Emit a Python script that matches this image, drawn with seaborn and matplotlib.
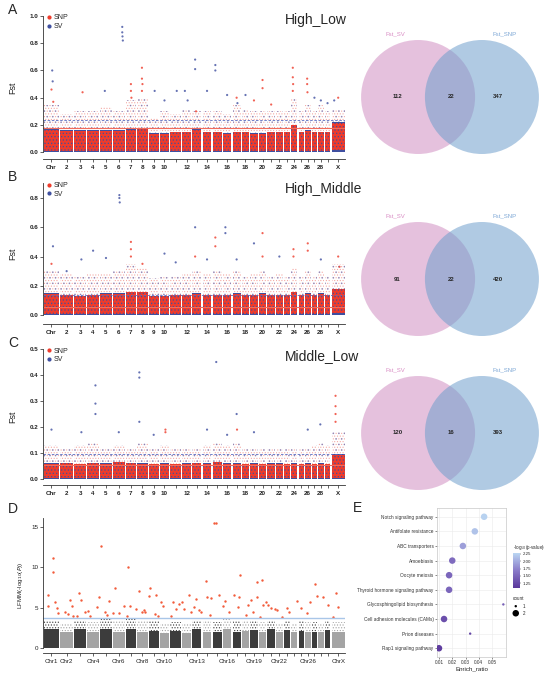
import numpy as np
import pandas as pd
import matplotlib
matplotlib.use("Agg")
import matplotlib.pyplot as plt
from matplotlib.patches import Circle
from matplotlib.lines import Line2D
from matplotlib.colors import LinearSegmentedColormap, Normalize
from matplotlib.cm import ScalarMappable
import seaborn as sns

sns.set_theme(style="ticks")
plt.rcParams['font.family'] = ['Liberation Sans', 'DejaVu Sans']
plt.rcParams['hatch.linewidth'] = 0.5

# chromosome sizes (Mb, as drawn) and tick labels
chrom_len = [174, 153, 137, 137, 137, 135, 121, 122, 113, 112, 123, 107, 105, 104, 105,
             101, 94, 86, 85, 88, 87, 77, 68, 78, 59, 68, 61, 62, 67, 155]
fst_ticklabels = ['Chr', '2', '3', '4', '5', '6', '7', '8', '9', '10', '', '12', '', '14', '',
                  '16', '', '18', '', '20', '', '22', '', '24', '', '26', '', '28', '', 'X']
lfmm_ticklabels = ['Chr1', 'Chr2', '', 'Chr4', '', 'Chr6', '', 'Chr8', '', 'Chr10', '', '',
                   'Chr13', '', '', 'Chr16', '', '', 'Chr19', '', '', 'Chr22', '', '', '',
                   'Chr26', '', '', '', 'ChrX']

# Fst: dense core top and sparse upper cloud per chromosome
dense_A = [0.17, 0.16, 0.16, 0.16, 0.16, 0.16, 0.17, 0.18, 0.14, 0.14, 0.15, 0.15, 0.17, 0.15, 0.15,
           0.14, 0.15, 0.15, 0.14, 0.14, 0.15, 0.15, 0.15, 0.20, 0.15, 0.16, 0.15, 0.15, 0.15, 0.22]
cloud_A = [0.35, 0.28, 0.30, 0.30, 0.33, 0.30, 0.38, 0.40, 0.25, 0.30, 0.28, 0.32, 0.30, 0.30, 0.30,
           0.28, 0.35, 0.32, 0.30, 0.30, 0.30, 0.30, 0.30, 0.40, 0.30, 0.35, 0.30, 0.35, 0.30, 0.32]
dense_B = [0.15, 0.14, 0.13, 0.14, 0.15, 0.15, 0.16, 0.16, 0.13, 0.13, 0.14, 0.14, 0.15, 0.14, 0.14,
           0.14, 0.15, 0.14, 0.14, 0.15, 0.14, 0.14, 0.14, 0.16, 0.14, 0.15, 0.14, 0.15, 0.14, 0.18]
cloud_B = [0.30, 0.28, 0.26, 0.28, 0.28, 0.30, 0.35, 0.32, 0.25, 0.26, 0.27, 0.28, 0.30, 0.28, 0.30,
           0.28, 0.30, 0.26, 0.28, 0.30, 0.27, 0.28, 0.26, 0.32, 0.27, 0.30, 0.27, 0.30, 0.27, 0.35]
dense_C = [0.060, 0.062, 0.058, 0.062, 0.060, 0.065, 0.062, 0.060, 0.058, 0.060, 0.058, 0.060, 0.062,
           0.060, 0.065, 0.060, 0.060, 0.058, 0.060, 0.058, 0.060, 0.060, 0.058, 0.060, 0.058, 0.060,
           0.058, 0.060, 0.058, 0.095]
cloud_C = [0.13, 0.12, 0.13, 0.14, 0.12, 0.13, 0.12, 0.14, 0.12, 0.13, 0.12, 0.12, 0.12, 0.13, 0.14,
           0.13, 0.14, 0.12, 0.12, 0.12, 0.12, 0.12, 0.12, 0.12, 0.12, 0.12, 0.13, 0.14, 0.13, 0.18]

# isolated high Fst points: (chromosome, position in chromosome 0-1, Fst, marker type)
peaks_A = [(1, 0.55, 0.60, 'SV'), (1, 0.58, 0.52, 'SV'), (1, 0.50, 0.46, 'SNP'), (1, 0.62, 0.37, 'SNP'),
           (3, 0.70, 0.44, 'SNP'), (5, 0.40, 0.45, 'SV'), (6, 0.80, 0.92, 'SV'), (6, 0.80, 0.88, 'SV'),
           (6, 0.82, 0.85, 'SV'), (6, 0.85, 0.82, 'SV'), (7, 0.50, 0.50, 'SNP'), (7, 0.50, 0.45, 'SNP'),
           (7, 0.55, 0.40, 'SNP'), (8, 0.45, 0.62, 'SNP'), (8, 0.45, 0.54, 'SNP'), (8, 0.50, 0.50, 'SNP'),
           (8, 0.45, 0.45, 'SNP'), (9, 0.60, 0.45, 'SV'), (10, 0.50, 0.38, 'SV'), (11, 0.60, 0.45, 'SV'),
           (12, 0.30, 0.45, 'SV'), (12, 0.60, 0.38, 'SV'), (13, 0.30, 0.68, 'SV'), (13, 0.30, 0.61, 'SV'),
           (13, 0.40, 0.30, 'SNP'), (14, 0.50, 0.45, 'SV'), (15, 0.30, 0.64, 'SV'), (15, 0.30, 0.60, 'SV'),
           (16, 0.50, 0.42, 'SV'), (17, 0.50, 0.40, 'SNP'), (17, 0.60, 0.36, 'SV'), (18, 0.50, 0.42, 'SV'),
           (19, 0.50, 0.38, 'SNP'), (20, 0.50, 0.53, 'SNP'), (20, 0.50, 0.47, 'SNP'), (21, 0.50, 0.35, 'SNP'),
           (24, 0.30, 0.62, 'SNP'), (24, 0.30, 0.55, 'SNP'), (24, 0.35, 0.50, 'SNP'), (24, 0.30, 0.45, 'SNP'),
           (26, 0.40, 0.54, 'SNP'), (26, 0.40, 0.50, 'SNP'), (26, 0.45, 0.44, 'SNP'), (27, 0.50, 0.40, 'SV'),
           (28, 0.50, 0.38, 'SV'), (29, 0.50, 0.36, 'SV'), (30, 0.50, 0.40, 'SNP'), (30, 0.20, 0.38, 'SV')]
peaks_B = [(1, 0.60, 0.47, 'SV'), (1, 0.50, 0.35, 'SNP'), (2, 0.50, 0.30, 'SV'), (3, 0.60, 0.38, 'SV'),
           (4, 0.50, 0.44, 'SV'), (5, 0.50, 0.39, 'SV'), (6, 0.55, 0.82, 'SV'), (6, 0.55, 0.80, 'SV'),
           (6, 0.58, 0.77, 'SV'), (7, 0.50, 0.50, 'SNP'), (7, 0.50, 0.45, 'SNP'), (7, 0.50, 0.40, 'SNP'),
           (8, 0.50, 0.35, 'SNP'), (10, 0.50, 0.42, 'SV'), (11, 0.50, 0.36, 'SV'), (13, 0.30, 0.60, 'SV'),
           (13, 0.30, 0.40, 'SNP'), (14, 0.50, 0.38, 'SV'), (15, 0.30, 0.53, 'SNP'), (15, 0.30, 0.47, 'SNP'),
           (16, 0.30, 0.60, 'SV'), (16, 0.30, 0.56, 'SV'), (17, 0.50, 0.38, 'SV'), (19, 0.50, 0.49, 'SV'),
           (20, 0.50, 0.56, 'SNP'), (20, 0.50, 0.40, 'SNP'), (22, 0.50, 0.40, 'SV'), (24, 0.40, 0.45, 'SNP'),
           (24, 0.40, 0.40, 'SNP'), (26, 0.50, 0.49, 'SNP'), (26, 0.50, 0.44, 'SNP'), (28, 0.50, 0.38, 'SV'),
           (30, 0.50, 0.40, 'SNP'), (30, 0.60, 0.33, 'SNP')]
peaks_C = [(1, 0.50, 0.19, 'SV'), (3, 0.60, 0.18, 'SV'), (4, 0.70, 0.36, 'SV'), (4, 0.70, 0.29, 'SV'),
           (4, 0.70, 0.25, 'SV'), (6, 0.50, 0.18, 'SV'), (8, 0.20, 0.41, 'SV'), (8, 0.20, 0.39, 'SV'),
           (8, 0.20, 0.22, 'SV'), (9, 0.50, 0.17, 'SV'), (10, 0.60, 0.19, 'SNP'), (10, 0.60, 0.18, 'SNP'),
           (14, 0.50, 0.19, 'SV'), (15, 0.40, 0.45, 'SV'), (16, 0.50, 0.17, 'SV'), (17, 0.50, 0.25, 'SV'),
           (17, 0.55, 0.19, 'SNP'), (19, 0.50, 0.18, 'SV'), (26, 0.50, 0.19, 'SV'), (28, 0.40, 0.21, 'SV'),
           (30, 0.30, 0.32, 'SNP'), (30, 0.30, 0.28, 'SNP'), (30, 0.30, 0.25, 'SNP'), (30, 0.30, 0.22, 'SNP')]
fst_cutoffs = {'A': (0.175, 0.235), 'B': (0.057, 0.14), 'C': (0.055, 0.097)}  # (SNP, SV)

# LFMM: grey core top, sparse cloud top, significant loci
lfmm_dense = [2.3, 2.0, 2.3, 2.0, 2.4, 2.0, 2.3, 2.0, 2.1, 1.9, 2.1, 1.9, 2.3, 2.0, 2.0,
              2.4, 2.0, 2.1, 2.2, 2.0, 2.3, 2.0, 2.2, 2.0, 2.1, 2.0, 2.0, 2.0, 2.2, 2.0]
lfmm_cloud = [3.4, 3.1, 3.5, 3.2, 3.6, 3.3, 3.6, 3.3, 3.3, 3.0, 3.2, 3.1, 3.5, 3.3, 3.2,
              3.6, 3.3, 3.4, 3.4, 3.2, 3.4, 3.1, 3.3, 3.0, 3.3, 3.2, 3.2, 3.1, 3.4, 3.2]
lfmm_cutoff = 3.7
lfmm_hits = [(1, 0.60, 11.1), (1, 0.60, 9.4), (1, 0.30, 6.6), (1, 0.25, 5.2), (1, 0.75, 5.7), (1, 0.85, 4.9),
             (1, 0.97, 4.3), (2, 0.37, 4.5), (2, 0.75, 5.9), (2, 0.88, 5.2), (2, 0.95, 4.0), (2, 0.62, 4.2),
             (3, 0.42, 6.8), (3, 0.57, 5.9), (3, 0.25, 4.0), (3, 0.90, 4.5), (5, 0.08, 12.6), (4, 0.97, 6.3),
             (4, 0.80, 5.1), (4, 0.10, 4.6), (4, 0.24, 4.0), (5, 0.78, 5.8), (5, 0.44, 4.4), (5, 0.56, 4.1),
             (6, 0.17, 7.4), (6, 0.03, 4.3), (6, 0.52, 4.3), (7, 0.24, 10.0), (6, 0.95, 5.2), (7, 0.39, 5.2),
             (7, 0.09, 4.0), (8, 0.13, 7.0), (7, 0.95, 4.8), (8, 0.43, 4.4), (8, 0.64, 4.7), (9, 0.02, 6.4),
             (9, 0.08, 7.4), (8, 0.78, 4.5), (9, 0.78, 6.6), (10, 0.15, 5.7), (10, 0.31, 5.2), (9, 0.62, 4.2),
             (9, 0.94, 4.0), (11, 0.24, 5.7), (11, 0.49, 4.8), (11, 0.81, 5.5), (11, 0.02, 4.0), (12, 0.73, 6.6),
             (12, 0.25, 4.8), (12, 0.97, 4.5), (13, 0.17, 5.1), (14, 0.40, 8.3), (14, 0.51, 6.3), (13, 0.94, 4.5),
             (14, 0.97, 6.2), (15, 0.15, 15.4), (15, 0.42, 15.4), (15, 0.73, 6.6), (16, 0.06, 5.2), (16, 0.27, 5.8),
             (16, 0.67, 4.5), (17, 0.18, 6.6), (17, 0.79, 6.3), (17, 0.62, 5.1), (17, 0.95, 9.0), (20, 0.37, 8.4),
             (19, 0.95, 8.1), (19, 0.90, 6.3), (20, 0.59, 5.3), (19, 0.35, 4.5), (18, 0.80, 5.3), (20, 0.95, 5.7),
             (21, 0.10, 5.3), (21, 0.54, 5.0), (21, 0.98, 4.8), (27, 0.58, 7.9), (27, 0.90, 6.4), (28, 0.90, 6.3),
             (30, 0.37, 6.8), (30, 0.50, 5.1), (19, 0.12, 5.9), (22, 0.07, 4.7), (23, 0.47, 5.0), (24, 0.97, 5.8),
             (25, 0.38, 5.0), (26, 0.86, 5.7), (29, 0.60, 5.3), (23, 0.97, 4.5), (26, 0.30, 4.3), (22, 0.83, 3.9),
             (20, 0.15, 3.9), (18, 0.57, 4.1), (14, 0.78, 4.1), (12, 0.02, 5.7), (30, 0.12, 3.9), (13, 0.35, 6.1),
             (13, 0.70, 4.7)]

# Venn counts (SV only, shared, SNP only)
venn_counts = {'A': (112, 22, 347), 'B': (91, 22, 420), 'C': (120, 16, 393)}
venn_titles = {'A': 'High_Low', 'B': 'High_Middle', 'C': 'Middle_Low'}

# KEGG enrichment
kegg_terms = ['Notch signaling pathway', 'Antifolate resistance', 'ABC transporters', 'Amoebiasis',
              'Oocyte meiosis', 'Thyroid hormone signaling pathway', 'Glycosphingolipid biosynthesis',
              'Cell adhesion molecules (CAMs)', 'Prion diseases', 'Rap1 signaling pathway']
kegg_ratio = [0.044, 0.037, 0.028, 0.020, 0.0176, 0.0176, 0.0585, 0.0138, 0.0335, 0.010]
kegg_logp = [2.25, 2.15, 1.92, 1.55, 1.50, 1.50, 1.45, 1.30, 1.25, 1.15]
kegg_count = [2, 2, 2, 2, 2, 2, 1, 2, 1, 2]

snp_red = '#EE3B2B'
sv_blue = '#3F4FA0'
W, H = 550.0, 675.0

fig = plt.figure(figsize=(5.5, 6.75), dpi=100)

lens = np.array(chrom_len, dtype=float)
gap = 13.5
starts = np.concatenate([[0], np.cumsum(lens + gap)[:-1]])
centers = starts + lens / 2
x_end = starts[-1] + lens[-1]


def px_rect(x0, y0, x1, y1):
    return [x0 / W, 1 - y1 / H, (x1 - x0) / W, (y1 - y0) / H]


def chrom_axis(ax, labels, bold):
    ax.set_xlim(-12, x_end + 2)
    ax.set_xticks(centers)
    ax.set_xticklabels(labels, fontsize=4.5, fontweight='bold' if bold else 'normal')
    ax.tick_params(axis='both', direction='out', length=2, width=0.5, pad=2.5, colors='#222222')
    ax.tick_params(axis='y', labelsize=4.5, pad=1.5)
    for s in ['top', 'right']:
        ax.spines[s].set_visible(False)
    for s in ['left', 'bottom']:
        ax.spines[s].set_linewidth(0.6)
        ax.spines[s].set_color('#333333')


def fst_panel(key, rect, dense, cloud, peaks, ylim, yticks):
    ax = fig.add_axes(rect)
    dense = np.array(dense)
    cloud = np.array(cloud)
    ax.bar(starts, cloud - dense, bottom=dense, width=lens, align='edge', facecolor='none',
           hatch='......', edgecolor=(0.93, 0.45, 0.42, 0.55), linewidth=0)
    ax.bar(starts, cloud - dense, bottom=dense, width=lens, align='edge', facecolor='none',
           hatch='...', edgecolor=(0.35, 0.40, 0.70, 0.45), linewidth=0)
    ax.bar(starts, dense, width=lens, align='edge', color=sv_blue, linewidth=0)
    ax.bar(starts, dense * 0.92, bottom=dense * 0.06, width=lens, align='edge', color=snp_red,
           hatch='.....', edgecolor=sv_blue, linewidth=0)
    df = pd.DataFrame(peaks, columns=['chrom', 'frac', 'fst', 'type'])
    df['pos'] = starts[df['chrom'] - 1] + df['frac'] * lens[df['chrom'] - 1]
    sns.scatterplot(data=df, x='pos', y='fst', hue='type', palette={'SNP': snp_red, 'SV': sv_blue},
                    s=2.5, linewidth=0, alpha=0.8, legend=False, ax=ax)
    snp_cut, sv_cut = fst_cutoffs[key]
    ax.axhline(sv_cut, color='#5A6BC0', lw=0.6, ls=(0, (3, 2)))
    ax.axhline(snp_cut, color='#F26B5B', lw=0.8)
    ax.set_ylim(*ylim)
    ax.set_yticks(yticks)
    ax.set_yticklabels([f'{t:.1f}' for t in yticks], fontweight='bold')
    chrom_axis(ax, fst_ticklabels, True)
    ax.spines['left'].set_bounds(0, yticks[-1] if ylim[1] - yticks[-1] < 0.02 else ylim[1])
    ax.set_xlabel('')
    ax.set_ylabel('Fst', fontsize=6.5)
    ax.yaxis.set_label_coords(-0.085, 0.5)
    handles = [Line2D([], [], marker='o', ls='', color=snp_red, markersize=2, label='SNP'),
               Line2D([], [], marker='o', ls='', color=sv_blue, markersize=2, label='SV')]
    ax.legend(handles=handles, loc='upper left', bbox_to_anchor=(0.0, 1.04), frameon=False, fontsize=5,
              handlelength=0.6, handletextpad=0.4, borderpad=0.1, labelspacing=0.25)
    return ax


fst_panel('A', px_rect(43, 16, 345, 159), dense_A, cloud_A, peaks_A, (-0.05, 1.0),
          [0.0, 0.2, 0.4, 0.6, 0.8, 1.0])
fst_panel('B', px_rect(43, 183.4, 345, 323.8), dense_B, cloud_B, peaks_B, (-0.06, 0.9),
          [0.0, 0.2, 0.4, 0.6, 0.8])
fst_panel('C', px_rect(43, 349, 345, 485), dense_C, cloud_C, peaks_C, (-0.023, 0.5),
          [0.0, 0.1, 0.2, 0.3, 0.4, 0.5])

# Venn diagrams
venn_cy = {'A': 97, 'B': 279, 'C': 433}
title_y = {'A': 20, 'B': 189, 'C': 356}
r_px = 57.0
for key in ['A', 'B', 'C']:
    cy = venn_cy[key]
    ax = fig.add_axes(px_rect(450 - 1.8 * r_px, cy - 1.4 * r_px, 450 + 1.8 * r_px, cy + 1.3 * r_px))
    ax.set_xlim(-1.8, 1.8)
    ax.set_ylim(-1.3, 1.4)
    ax.axis('off')
    ax.add_patch(Circle((-0.56, 0), 1.0, facecolor='#CD85BD', alpha=0.5, linewidth=0))
    ax.add_patch(Circle((0.56, 0), 1.0, facecolor='#6F9FCC', alpha=0.55, linewidth=0))
    sv_only, shared, snp_only = venn_counts[key]
    ax.text(-0.92, 0, str(sv_only), ha='center', va='center', fontsize=4.3, fontweight='bold')
    ax.text(0.02, 0, str(shared), ha='center', va='center', fontsize=4.3, fontweight='bold')
    ax.text(0.84, 0, str(snp_only), ha='center', va='center', fontsize=4.3, fontweight='bold')
    ax.text(-0.96, 1.1, 'Fst_SV', ha='center', va='center', fontsize=4.3, color='#D98CC4')
    ax.text(0.96, 1.1, 'Fst_SNP', ha='center', va='center', fontsize=4.3, color='#7FA8D6')
    fig.text(285 / W, 1 - title_y[key] / H, venn_titles[key], ha='left', va='center', fontsize=10)

# LFMM Manhattan
axd = fig.add_axes(px_rect(43, 518, 345, 653))
grey = ['#3c3c3c' if i % 2 == 0 else '#a4a4a4' for i in range(len(chrom_len))]
lfmm_dense_a = np.array(lfmm_dense)
lfmm_cloud_a = np.array(lfmm_cloud)
axd.bar(starts, lfmm_cloud_a - lfmm_dense_a, bottom=lfmm_dense_a, width=lens, align='edge',
        facecolor='none', hatch='......', edgecolor=grey, linewidth=0)
axd.bar(starts, lfmm_dense_a, width=lens, align='edge', color=grey, linewidth=0)
hits = pd.DataFrame(lfmm_hits, columns=['chrom', 'frac', 'logp'])
hits['pos'] = starts[hits['chrom'] - 1] + hits['frac'] * lens[hits['chrom'] - 1]
sns.scatterplot(data=hits, x='pos', y='logp', color='#F25C3B', s=3, linewidth=0, ax=axd)
axd.axhline(lfmm_cutoff, color='#A9C6E8', lw=1.0)
axd.set_ylim(-0.6, 16.05)
axd.set_yticks([0, 5, 10, 15])
chrom_axis(axd, lfmm_ticklabels, False)
axd.spines['left'].set_bounds(0, 16.05)
axd.set_xlabel('')
axd.set_ylabel(r'LFMM(-log$_{10}$($\it{P}$))', fontsize=4.5)
axd.yaxis.set_label_coords(-0.06, 0.5)

# KEGG dot plot
cmap = LinearSegmentedColormap.from_list('kegg', ['#5A379B', '#8A7BC9', '#BAD6F2'])
vmin, vmax = 1.09, 2.28
kegg = pd.DataFrame({'term': kegg_terms, 'ratio': kegg_ratio, 'logp': kegg_logp, 'count': kegg_count})
kegg['ypos'] = np.arange(len(kegg))[::-1]
axe = fig.add_axes(px_rect(437, 508, 506, 657))
sns.scatterplot(data=kegg, x='ratio', y='ypos', hue='logp', hue_norm=(vmin, vmax), palette=cmap,
                size='count', sizes=(3, 22), size_norm=(1, 2), linewidth=0, legend=False, ax=axe, zorder=3)
axe.set_xlim(0.0085, 0.0605)
axe.set_ylim(-0.6, len(kegg) - 0.4)
axe.set_yticks(kegg['ypos'])
axe.set_yticklabels(kegg['term'], fontsize=3.4)
axe.set_xticks([0.01, 0.02, 0.03, 0.04, 0.05])
axe.set_xticklabels(['0.01', '0.02', '0.03', '0.04', '0.05'], fontsize=3.4)
axe.grid(True, color='#ebebeb', lw=0.4)
axe.set_axisbelow(True)
for s in axe.spines.values():
    s.set_color('#c8c8c8')
    s.set_linewidth(0.5)
axe.tick_params(length=1.5, width=0.4, pad=1, colors='#333333')
axe.set_xlabel('Enrich_ratio', fontsize=4.5, labelpad=0.5)
axe.set_ylabel('')

cax = fig.add_axes(px_rect(513, 553, 520, 588))
cb = fig.colorbar(ScalarMappable(norm=Normalize(vmin, vmax), cmap=cmap), cax=cax)
cb.set_ticks([1.25, 1.50, 1.75, 2.00, 2.25])
cb.ax.tick_params(labelsize=3.2, length=1, width=0.3, pad=1)
cb.outline.set_visible(False)
fig.text(513 / W, 1 - 547 / H, r'-log$_{10}$(p-value)', fontsize=3.3, ha='left', va='center')

axs = fig.add_axes(px_rect(511, 602, 530, 617))
axs.axis('off')
axs.set_xlim(0, 1)
axs.set_ylim(0, 1)
size_key = pd.DataFrame({'count': [1, 2], 'y': [0.72, 0.25]})
sns.scatterplot(data=size_key, x=[0.25, 0.25], y='y', size='count', sizes=(3, 22), size_norm=(1, 2),
                color='black', linewidth=0, legend=False, ax=axs)
for c, y in zip(size_key['count'], size_key['y']):
    axs.text(0.6, y, str(c), fontsize=3.3, va='center')
axs.set_xlabel('')
axs.set_ylabel('')
fig.text(513 / W, 1 - 599 / H, 'count', fontsize=3.3, ha='left', va='center')

# panel letters
for letter, (x, y) in zip('ABCDE', [(8, 10), (8, 177), (8, 343), (8, 509), (353, 508)]):
    fig.text(x / W, 1 - y / H, letter, fontsize=10, ha='left', va='center')

fig.savefig('out.png', dpi=100)
